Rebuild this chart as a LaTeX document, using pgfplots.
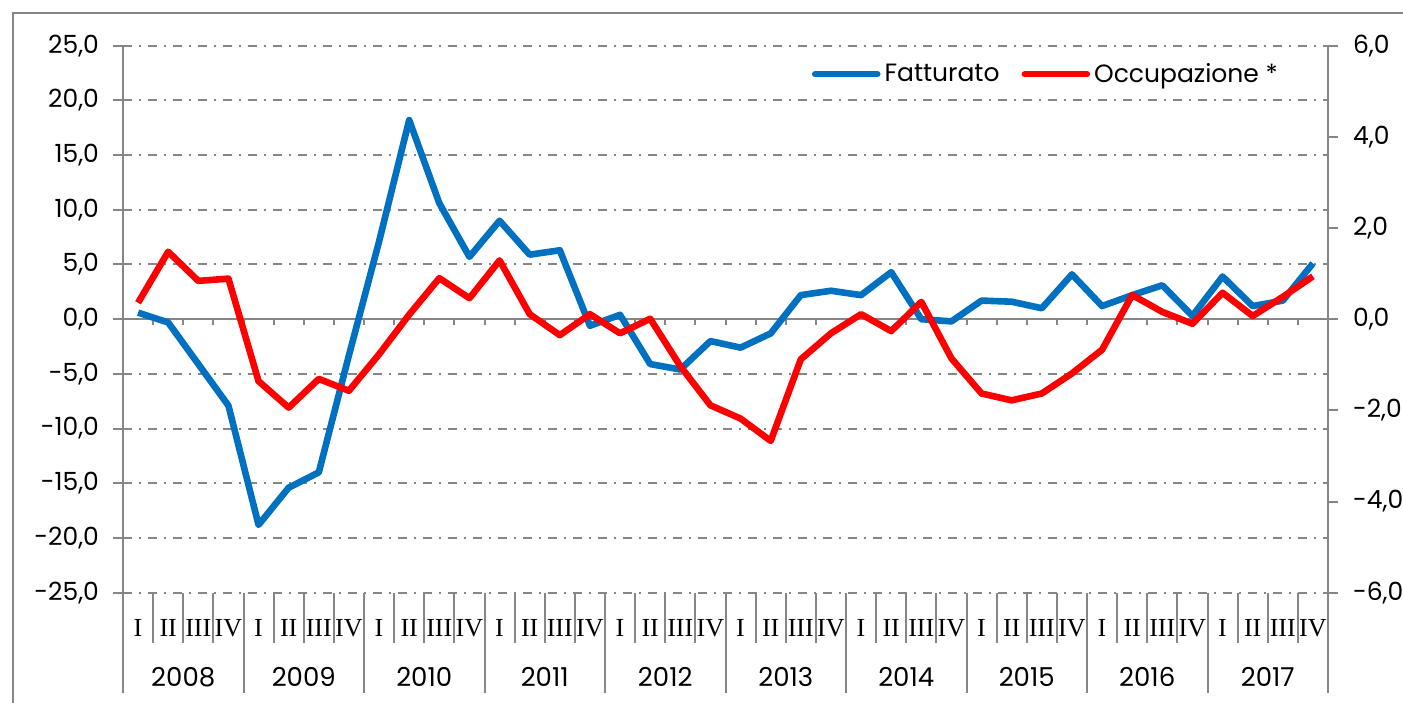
\documentclass[border=0pt]{standalone}
\usepackage{pgfplots}
\pgfplotsset{compat=1.18}
\usepackage{fontspec}
\setmainfont{Poppins}
\newfontfamily\romanfont{Liberation Serif}

\definecolor{fattblue}{RGB}{0,112,192}
\definecolor{occred}{RGB}{255,0,0}
\definecolor{linegray}{RGB}{134,134,134}

% 1 px of the reference = 0.5pt; axis area 1205 x 547 px
\def\cell{15.0625pt}

\begin{document}
\begin{tikzpicture}
\useasboundingbox (-61.5pt,-54.65pt) rectangle (640pt,296.35pt);
% outer frame
\draw[linegray, line width=1pt] (-55pt,-70pt) -- (-55pt,289.85pt) -- (660pt,289.85pt);

% axis decorations behind the series
\begin{scope}[linegray, line width=1pt]
  \draw (0,136.75pt) -- (602.5pt,136.75pt);
  \foreach \k in {1,...,39} \draw (\k*\cell,136.75pt) -- ++(0,-3pt);
  \draw (0,273.5pt) -- (0,-50pt);
  \draw (602.5pt,273.5pt) -- (602.5pt,-50pt);
  \foreach \k in {1,...,39} \draw (\k*\cell,0) -- ++(0,-25pt);
  \foreach \k in {4,8,...,36} \draw (\k*\cell,0) -- ++(0,-50pt);
\end{scope}
\foreach \k in {0,...,9} {
  \pgfmathtruncatemacro\yr{2008+\k}
  \node[font=\fontsize{13}{13}\selectfont] at ({(4*\k+2)*\cell},-42pt) {\yr};
}

\begin{axis}[
  scale only axis, width=602.5pt, height=273.5pt,
  xmin=-0.5, xmax=39.5, ymin=-25, ymax=25,
  axis line style={draw=none},
  ytick={-25,-20,...,25},
  ytick pos=left,
  tick align=outside,
  major tick length=5pt,
  ytick style={draw=linegray, line width=1pt},
  ymajorgrids,
  grid style={linegray, line width=1pt, dash pattern=on 4.5pt off 3.5pt on 1pt off 3.5pt},
  xtick={0,...,39},
  xticklabels={I,II,III,IV,I,II,III,IV,I,II,III,IV,I,II,III,IV,I,II,III,IV,
               I,II,III,IV,I,II,III,IV,I,II,III,IV,I,II,III,IV,I,II,III,IV},
  xtick style={draw=none},
  xticklabel style={font=\romanfont\fontsize{13}{13}\selectfont, anchor=center, yshift=-12.5pt},
  yticklabel style={font=\fontsize{12.5}{13}\selectfont, xshift=-3.5pt},
  /pgf/number format/fixed, /pgf/number format/fixed zerofill,
  /pgf/number format/precision=1, /pgf/number format/use comma,
  /pgf/number format/assume math mode=true,
]
\addplot[fattblue, line width=3.3pt, line join=round] coordinates {
(0,0.6)(1,-0.3)(2,-4.1)(3,-7.9)(4,-18.8)(5,-15.4)(6,-14.0)(7,-3.3)
(8,7.1)(9,18.2)(10,10.6)(11,5.7)(12,9.0)(13,5.9)(14,6.3)(15,-0.6)
(16,0.4)(17,-4.1)(18,-4.6)(19,-2.0)(20,-2.6)(21,-1.3)(22,2.2)(23,2.6)
(24,2.2)(25,4.3)(26,0.0)(27,-0.2)(28,1.7)(29,1.6)(30,1.0)(31,4.1)
(32,1.2)(33,2.2)(34,3.1)(35,0.3)(36,3.9)(37,1.2)(38,1.7)(39,5.1)};
\end{axis}

\begin{axis}[
  scale only axis, width=602.5pt, height=273.5pt,
  xmin=-0.5, xmax=39.5, ymin=-6, ymax=6,
  axis x line=none, axis y line*=right,
  axis line style={draw=none},
  ytick={-6,-4,...,6},
  tick align=outside,
  major tick length=5pt,
  ytick style={draw=linegray, line width=1pt},
  yticklabel style={font=\fontsize{12.5}{13}\selectfont, xshift=4pt},
  /pgf/number format/fixed, /pgf/number format/fixed zerofill,
  /pgf/number format/precision=1, /pgf/number format/use comma,
  /pgf/number format/assume math mode=true,
  legend columns=2,
  legend image code/.code={\draw[#1, line cap=round] (0pt,0pt) -- (31pt,0pt);},
  legend style={at={(0.962,0.948)}, anchor=east, draw=none, fill=none,
    inner sep=0pt, font=\fontsize{12.5}{13}\selectfont,
    /tikz/every even column/.append style={column sep=9pt}},
]
\addlegendimage{fattblue, line width=3.3pt}
\addlegendentry{Fatturato}
\addplot[occred, line width=3.3pt, line join=round] coordinates {
(0,0.36)(1,1.48)(2,0.84)(3,0.89)(4,-1.36)(5,-1.94)(6,-1.31)(7,-1.57)
(8,-0.77)(9,0.10)(10,0.90)(11,0.46)(12,1.29)(13,0.11)(14,-0.35)(15,0.11)
(16,-0.31)(17,0.01)(18,-1.03)(19,-1.89)(20,-2.18)(21,-2.67)(22,-0.88)(23,-0.31)
(24,0.11)(25,-0.26)(26,0.38)(27,-0.86)(28,-1.63)(29,-1.78)(30,-1.63)(31,-1.19)
(32,-0.67)(33,0.53)(34,0.16)(35,-0.10)(36,0.58)(37,0.07)(38,0.49)(39,0.94)};
\addlegendentry{Occupazione *}
\end{axis}
\end{tikzpicture}
\end{document}
